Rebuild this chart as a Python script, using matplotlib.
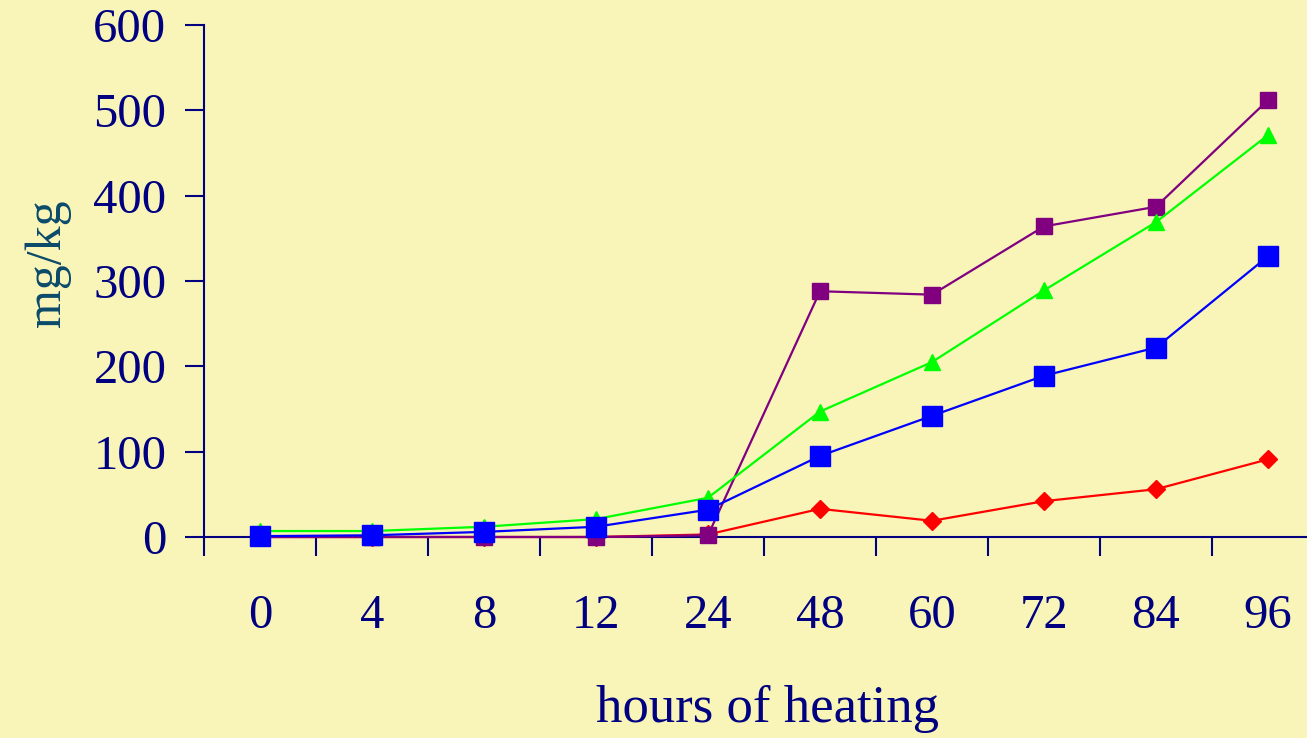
import matplotlib
matplotlib.use("Agg")
import matplotlib.pyplot as plt
import numpy as np

hours = ["0", "4", "8", "12", "24", "48", "60", "72", "84", "96"]
purple_vals = [0, 0, 0, 0, 2, 288, 284, 364, 387, 512]
green_vals = [7, 7, 12, 21, 46, 147, 205, 289, 369, 471]
blue_vals = [1, 2, 6, 12, 32, 95, 142, 189, 222, 329]
red_vals = [0, 0, 0, 0, 3, 33, 19, 42, 56, 91]
yticks = [0, 100, 200, 300, 400, 500, 600]

W, H = 1307, 738
bg = "#F9F5B8"
navy = "#000080"

plt.rcParams['font.family'] = ['Liberation Serif', 'DejaVu Serif']

fig = plt.figure(figsize=(W / 100, H / 100), dpi=100, facecolor=bg)
left = 204 / W
bottom = (H - 537) / H
top = (H - 25) / H
ax = fig.add_axes([left, bottom, 1 - left, top - bottom])
ax.set_facecolor(bg)

x = np.arange(len(hours))
ax.plot(x, red_vals, color="#FF0000", lw=1.6, marker="D", ms=9, clip_on=False, zorder=3)
ax.plot(x, purple_vals, color="#800080", lw=1.6, marker="s", ms=11, clip_on=False, zorder=4)
ax.plot(x, green_vals, color="#00FF00", lw=1.6, marker="^", ms=12, clip_on=False, zorder=5)
ax.plot(x, blue_vals, color="#0000FF", lw=1.6, marker="s", ms=14, clip_on=False, zorder=6)

for s in ["top", "right"]:
    ax.spines[s].set_visible(False)
for s in ["left", "bottom"]:
    ax.spines[s].set_color(navy)
    ax.spines[s].set_linewidth(1.5)

ax.set_yticks(yticks)
ax.set_yticklabels([str(v) for v in yticks])
ax.set_xticks(x)
ax.set_xticklabels(hours)
ax.set_xticks(np.arange(-0.5, len(hours), 1.0), minor=True)

x_right = -0.5 + (W - 204) / 112
ax.set_xlim(-0.5, x_right)
ax.set_ylim(0, 600)

ax.tick_params(axis="x", which="major", length=0, pad=41, labelsize=35, labelcolor=navy)
ax.tick_params(axis="x", which="minor", length=14, width=1.5, color=navy, direction="out")
ax.tick_params(axis="y", which="major", length=14, width=1.5, color=navy, pad=13,
               labelsize=35, labelcolor=navy, direction="out")

fig.text(767 / W, 1 - 709 / H, "hours of heating", ha="center", va="center",
         fontsize=38, color=navy)
fig.text(48 / W, 1 - 263 / H, "mg/kg", ha="center", va="center", rotation=90,
         fontsize=36, color="#0B4A6A")

fig.savefig("out.png", dpi=100, facecolor=bg)
